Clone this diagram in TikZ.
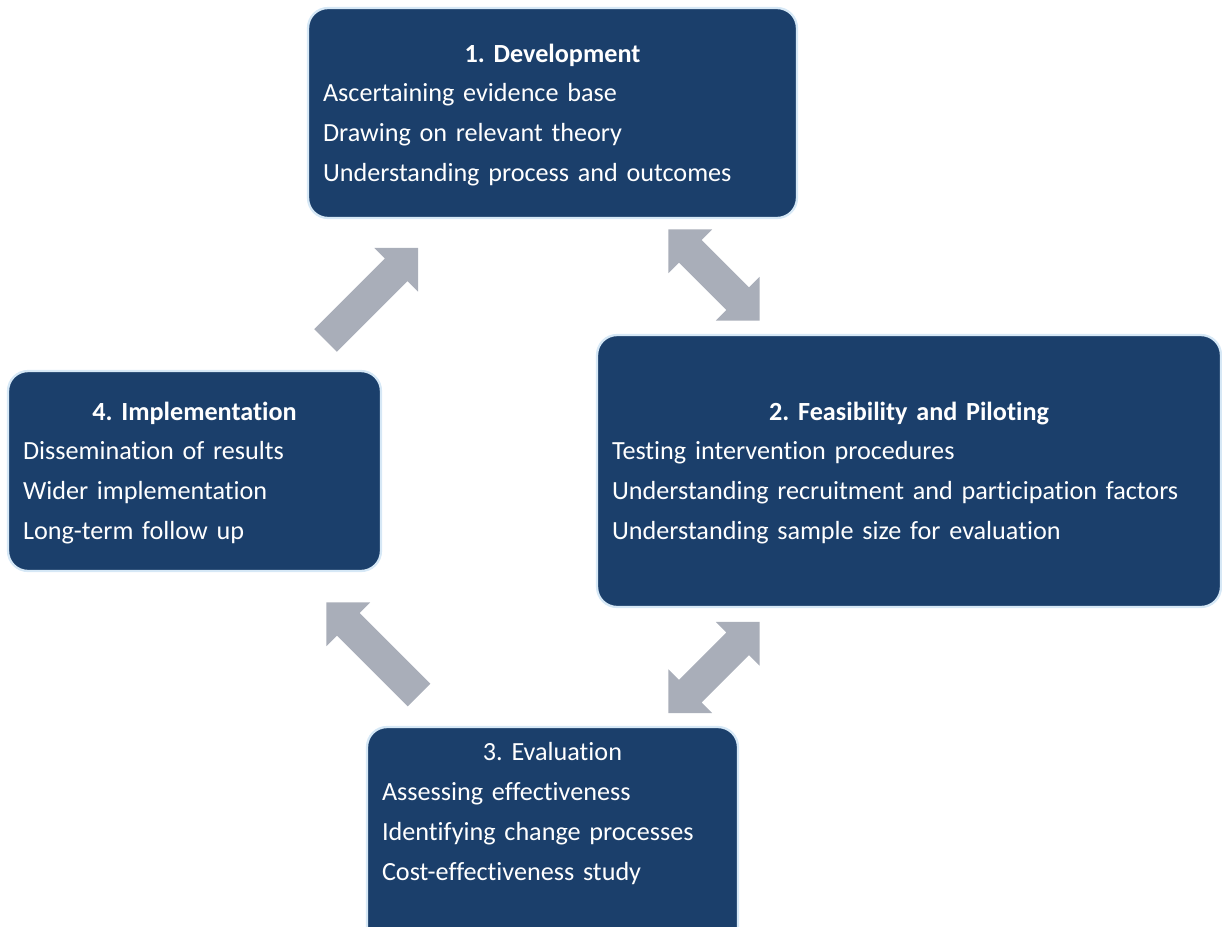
\documentclass[tikz,border=0pt]{standalone}
\usepackage{fontspec}
\setmainfont{Carlito}[Ligatures=NoCommon]
\usetikzlibrary{positioning}

\definecolor{stageblue}{RGB}{27,63,107}
\definecolor{stageedge}{RGB}{214,232,246}
\definecolor{arrowgray}{RGB}{169,174,185}

\tikzset{
  stage/.style = {draw=stageedge, line width=1.3pt, fill=stageblue, rounded corners=0.4cm, inner sep=0pt},
  stagetext/.style = {text=white, font=\fontsize{14.9}{22.7}\selectfont\frenchspacing, align=left, inner sep=0pt},
  onearrow/.pic = {\fill[arrowgray] (0,-16) -- (100,-16) -- (100,-31) -- (131,0) -- (100,31) -- (100,16) -- (0,16) -- cycle;},
  twoarrow/.pic = {\fill[arrowgray] (-64.5,0) -- (-33.5,31) -- (-33.5,16) -- (33.5,16) -- (33.5,31) -- (64.5,0)
                    -- (33.5,-31) -- (33.5,-16) -- (-33.5,-16) -- (-33.5,-31) -- cycle;}
}

\begin{document}
\begin{tikzpicture}[x=0.02cm, y=0.02cm]
    \clip (0,0) rectangle (1222,-926);

    % the four stages
    \node[stage, minimum width=9.78cm, minimum height=4.2cm] (dev) at (552.5,-113) {};
    \node[stage, minimum width=12.48cm, minimum height=5.44cm] (feas) at (909,-471) {};
    \node[stage, minimum width=7.42cm, minimum height=4.4cm] (eval) at (552.5,-837) {};
    \node[stage, minimum width=7.46cm, minimum height=4cm] (impl) at (194.5,-471) {};

    \node[stagetext, text width=9.18cm, yshift=-0.04cm] (devtext) at (dev) {%
        \makebox[\linewidth]{\bfseries 1. Development}\\
        Ascertaining evidence base\\
        Drawing on relevant theory\\
        Understanding process and outcomes};
    \node[stagetext, text width=11.88cm, yshift=-0.04cm] (feastext) at (feas) {%
        \makebox[\linewidth]{\bfseries 2. Feasibility and Piloting}\\
        Testing intervention procedures\\
        Understanding recruitment and participation factors\\
        Understanding sample size for evaluation};
    \node[stagetext, text width=6.82cm, below=0.32cm of eval.north] (evaltext) {%
        \makebox[\linewidth]{3. Evaluation}\\
        Assessing effectiveness\\
        Identifying change processes\\
        Cost-effectiveness study};
    \node[stagetext, text width=6.86cm, yshift=-0.04cm] (impltext) at (impl) {%
        \makebox[\linewidth]{\bfseries 4. Implementation}\\
        Dissemination of results\\
        Wider implementation\\
        Long-term follow up};

    % block arrows between the stages
    \pic[rotate=45] at (325.5,-340.5) {onearrow};
    \pic[rotate=-45] at (714,-275) {twoarrow};
    \pic[rotate=45] at (714,-667.5) {twoarrow};
    \pic[rotate=135] at (419,-695) {onearrow};
\end{tikzpicture}
\end{document}
